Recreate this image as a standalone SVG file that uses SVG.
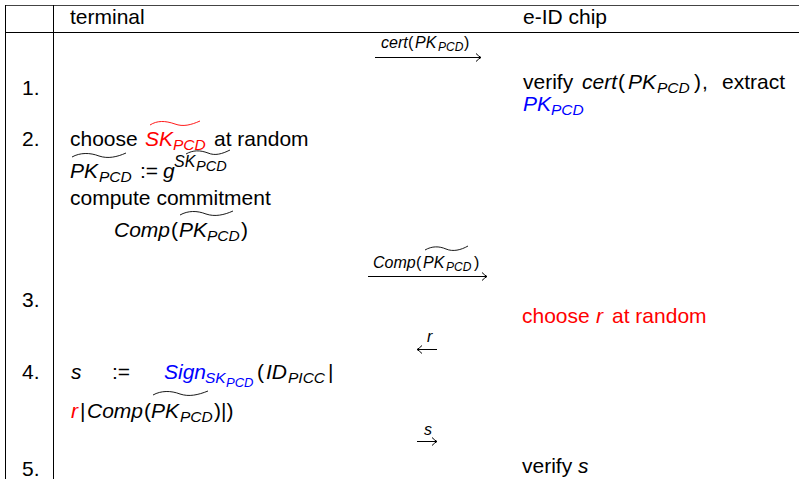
<svg xmlns="http://www.w3.org/2000/svg" width="799" height="479" viewBox="0 0 799 479">
<style>
.t{font-family:"Liberation Sans",Arial,Helvetica,sans-serif;font-size:21px;fill:#000}
.i{font-style:italic}
.s{font-size:15.5px}
.l{font-size:16px}
.ls{font-size:12px}
.red{fill:#ff0000}
.blu{fill:#0000ff}
.grid{stroke:#000;stroke-width:1;fill:none}
.tl{fill:none;stroke:#000;stroke-width:0.9}
.arr{fill:none;stroke:#000;stroke-width:1}
</style>
<defs>
<marker id="ah" viewBox="-6 -5 7 10" refX="0" refY="0" markerWidth="7" markerHeight="10" orient="auto-start-reverse" markerUnits="userSpaceOnUse">
<path d="M-5,-4 Q-2,-1 0,0 Q-2,1 -5,4" fill="none" stroke="#000" stroke-width="1"/>
</marker>
</defs>
<rect width="799" height="479" fill="#fff"/>
<g id="grid" class="grid">
<line x1="5" y1="5.5" x2="799" y2="5.5" stroke="#444"/>
<line x1="5" y1="32.5" x2="799" y2="32.5"/>
<line x1="5.5" y1="5" x2="5.5" y2="479"/>
<line x1="53.5" y1="5" x2="53.5" y2="479"/>
</g>
<g id="header">
<text class="t" x="70" y="24">terminal</text>
<text class="t" x="523" y="24">e-ID chip</text>
</g>
<g id="numbers">
<text class="t" x="22" y="95">1.</text>
<text class="t" x="22" y="146">2.</text>
<text class="t" x="22" y="307">3.</text>
<text class="t" x="22" y="379">4.</text>
<text class="t" x="22" y="476">5.</text>
</g>
<g id="step1-chip">
<text class="t" y="89"><tspan x="523">verify</tspan><tspan x="582" class="i">cert</tspan><tspan x="618">(</tspan><tspan x="628" class="i">PK</tspan><tspan x="657" y="93" class="i s">PCD</tspan><tspan x="694" y="89">)</tspan><tspan x="702">,</tspan><tspan x="722">extract</tspan></text>
<text class="t blu i" y="111"><tspan x="523">PK</tspan><tspan x="551" y="115" class="s">PCD</tspan></text>
</g>
<g id="step2-terminal">
<text class="t" y="146"><tspan x="70">choose</tspan><tspan x="145" class="i red">SK</tspan><tspan x="173" y="150" class="i s red">PCD</tspan><tspan x="214" y="146">at random</tspan></text>
<path class="tl" style="stroke:#ff0000" d="M150,125 C157,120.5 165,120.5 175,124 C183,127 191,125 200,121"/>
<text class="t i" y="178"><tspan x="70">PK</tspan><tspan x="99" y="182" class="s">PCD</tspan><tspan x="140" y="178" style="font-style:normal">:=</tspan><tspan x="163">g</tspan><tspan x="174" y="167" style="font-size:16px">SK</tspan><tspan x="196" y="171" style="font-size:14.5px">PCD</tspan></text>
<path class="tl" d="M72,157 C80,152.5 90,152.5 99,156 C108,159 117,157 126,153"/>
<path class="tl" d="M186,154 C193,150 200,150 208,153 C215,156 222,154 230,150"/>
<text class="t" x="70" y="205">compute commitment</text>
<text class="t i" y="237"><tspan x="114">Comp</tspan><tspan x="171" style="font-style:normal">(</tspan><tspan x="179">PK</tspan><tspan x="207" y="241" class="s">PCD</tspan><tspan x="241" y="237" style="font-style:normal">)</tspan></text>
<path class="tl" d="M180,215 C188,210.5 197,210.5 206,214 C215,217 224,215 233,211"/>
</g>
<g id="step3-chip">
<text class="t red" y="323"><tspan x="522">choose</tspan><tspan x="596" class="i">r</tspan><tspan x="612">at random</tspan></text>
</g>
<g id="step4-terminal">
<text class="t" y="379"><tspan x="71" class="i">s</tspan><tspan x="112">:=</tspan><tspan x="164" class="i blu">Sign</tspan><tspan x="205" y="383" class="i s blu">SK</tspan><tspan x="226" y="387" class="i blu" style="font-size:13px">PCD</tspan><tspan x="257" y="379">(</tspan><tspan x="266" class="i">ID</tspan><tspan x="288" y="383" class="i s">PICC</tspan><tspan x="328" y="379">|</tspan></text>
<text class="t" y="418"><tspan x="71" class="i red">r</tspan><tspan x="80">|</tspan><tspan x="87" class="i">Comp</tspan><tspan x="144">(</tspan><tspan x="151" class="i">PK</tspan><tspan x="180" y="422" class="i s">PCD</tspan><tspan x="214" y="418">)|)</tspan></text>
<path class="tl" d="M153,395 C161,390.5 171,390.5 180,394 C189,397 198,395 208,391"/>
</g>
<g id="step5-chip">
<text class="t" y="473"><tspan x="522">verify</tspan><tspan x="578" class="i">s</tspan></text>
</g>
<g id="connectors">
<g id="msg-cert">
<text class="t l" y="48"><tspan x="381" class="i">cert</tspan><tspan x="408">(</tspan><tspan x="415" class="i">PK</tspan><tspan x="438" y="51" class="i ls">PCD</tspan><tspan x="464" y="48">)</tspan></text>
<line class="arr" x1="375" y1="57.5" x2="481" y2="57.5" marker-end="url(#ah)"/>
</g>
<g id="msg-comp">
<text class="t l" y="268"><tspan x="373" class="i">Comp</tspan><tspan x="416">(</tspan><tspan x="423" class="i">PK</tspan><tspan x="446" y="271" class="i ls">PCD</tspan><tspan x="474" y="268">)</tspan></text>
<path class="tl" d="M425,250 C432,246 439,246 446,249 C453,252 461,250 468,246"/>
<line class="arr" x1="368" y1="276.5" x2="487" y2="276.5" marker-end="url(#ah)"/>
</g>
<g id="msg-r">
<text class="t l i" x="427" y="342">r</text>
<line class="arr" x1="417" y1="349.5" x2="437" y2="349.5" marker-start="url(#ah)"/>
</g>
<g id="msg-s">
<text class="t l i" x="424" y="435">s</text>
<line class="arr" x1="417" y1="441.5" x2="437" y2="441.5" marker-end="url(#ah)"/>
</g>
</g>
</svg>
